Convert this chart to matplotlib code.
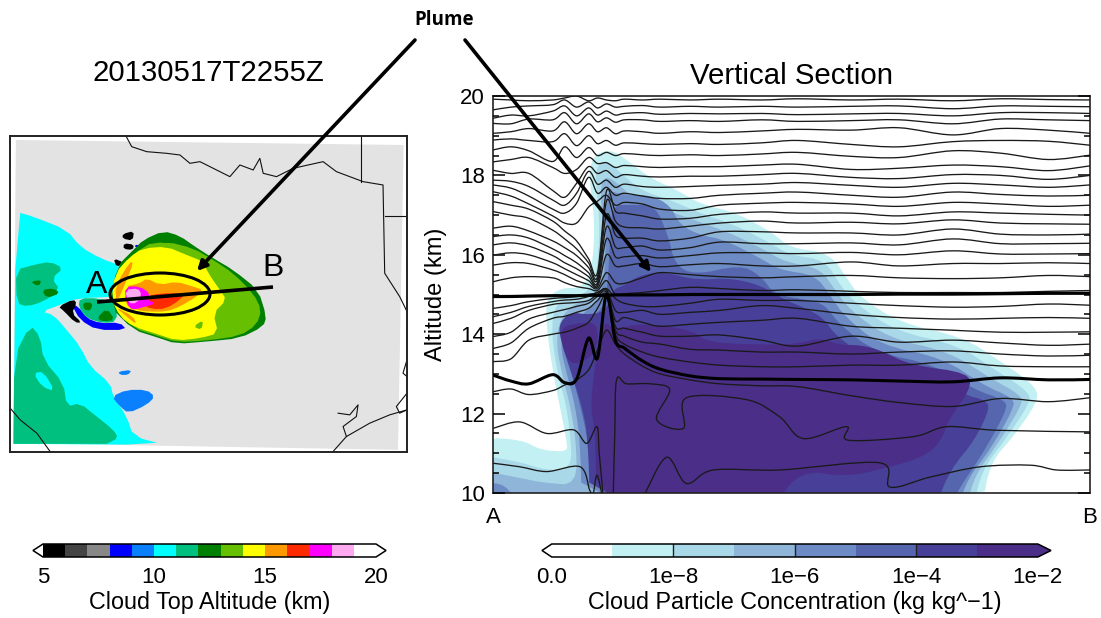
import numpy as np
import matplotlib
matplotlib.use("Agg")
import matplotlib.pyplot as plt
from matplotlib.colors import ListedColormap, BoundaryNorm
from matplotlib.cm import ScalarMappable
from matplotlib.patches import Polygon, Ellipse, PathPatch
from matplotlib.path import Path

plt.rcParams['font.family'] = ['Liberation Sans', 'DejaVu Sans']

W, H = 1101, 618

# ---------- titles / labels
map_title = "20130517T2255Z"
sec_title = "Vertical Section"
plume_label = "Plume"
top_label = "Cloud Top Altitude (km)"
conc_label = "Cloud Particle Concentration (kg kg^\u22121)"

# ---------- colour bars
top_levels = list(range(5, 21))
top_colors = ['#000000', '#444444', '#888888', '#0000ff', '#0a80ff', '#00ffff', '#00c080', '#008000',
              '#66bf00', '#ffff00', '#ff9900', '#ff2a00', '#ff00ff', '#ffaaf0', '#ffffff']
top_ticks = [5, 10, 15, 20]
conc_positions = list(range(0, 9))
conc_colors = ['#ffffff', '#c2f0f3', '#a9d9e8', '#8fb5d8', '#6d8bc4', '#5566ae', '#483f98', '#4a2e88']
conc_ticks = [0, 2, 4, 6, 8]
conc_ticklabels = ['0.0', '1e\u22128', '1e\u22126', '1e\u22124', '1e\u22122']

# ---------- section: isentropes, x = % of distance A-B, altitude in km
sec_x = [0, 3, 6, 10, 12, 14, 16, 17.5, 19, 20.5, 22, 25, 28, 33, 38, 45, 51, 60, 68, 77, 85, 93, 100]
upper_lines = [
 [19.92,19.90,19.88,19.90,19.95,20.00,19.88,19.95,19.90,19.88,19.92,19.90,19.92,19.90,19.92,19.90,19.93,19.90,19.92,19.88,19.93,19.91,19.90],
 [19.65,19.72,19.75,19.78,19.90,19.72,19.85,19.70,19.80,19.72,19.74,19.76,19.72,19.74,19.72,19.74,19.72,19.74,19.75,19.68,19.75,19.74,19.73],
 [19.44,19.52,19.50,19.62,19.75,19.50,19.70,19.52,19.62,19.52,19.56,19.58,19.54,19.56,19.55,19.56,19.53,19.55,19.56,19.50,19.58,19.58,19.56],
 [19.31,19.30,19.42,19.40,19.58,19.30,19.55,19.35,19.45,19.34,19.40,19.40,19.36,19.38,19.36,19.40,19.36,19.38,19.40,19.30,19.42,19.40,19.38],
 [19.06,19.10,19.18,19.12,19.35,19.05,19.30,19.10,19.20,19.05,19.12,19.10,19.06,19.10,19.08,19.12,19.16,19.14,19.20,19.02,19.18,19.14,19.06],
 [18.89,18.92,18.88,18.85,19.05,18.75,19.00,18.80,18.88,18.76,18.82,18.80,18.78,18.80,18.78,18.82,18.88,18.78,18.72,18.85,18.88,18.86,18.76],
 [18.64,18.72,18.62,18.35,18.72,18.45,18.70,18.50,18.58,18.50,18.55,18.52,18.50,18.52,18.50,18.54,18.58,18.48,18.45,18.62,18.56,18.40,18.51],
 [18.34,18.40,18.45,18.20,18.05,18.15,18.45,18.30,18.32,18.20,18.25,18.22,18.20,18.22,18.22,18.26,18.28,18.15,18.18,18.26,18.22,18.12,18.24],
 [18.13,18.05,18.05,17.62,17.45,17.80,18.22,18.05,18.12,17.95,18.02,17.98,17.96,17.98,17.98,18.02,18.05,17.95,17.92,18.02,18.00,17.90,18.00],
 [17.88,17.85,17.72,17.38,17.25,17.55,18.10,17.78,17.88,17.70,17.78,17.72,17.70,17.72,17.75,17.78,17.82,17.75,17.70,17.80,17.76,17.70,17.76],
 [17.76,17.68,17.48,17.15,17.05,17.30,17.95,17.55,17.70,17.50,17.55,17.48,17.42,17.42,17.50,17.55,17.58,17.50,17.45,17.58,17.52,17.48,17.50],
 [17.59,17.48,17.28,16.98,16.80,16.80,17.20,17.35,17.50,17.25,17.32,17.28,17.15,17.12,17.25,17.30,17.32,17.28,17.22,17.32,17.28,17.22,17.25],
 [17.34,17.25,17.15,16.85,16.60,16.35,15.90,15.55,17.60,17.10,17.05,16.98,16.90,16.92,17.02,17.08,17.05,17.05,16.98,17.08,17.05,17.02,17.00],
 [17.09,17.00,16.92,16.62,16.40,16.15,15.80,15.45,17.35,16.85,16.70,16.68,16.65,16.72,16.80,16.85,16.80,16.82,16.78,16.88,16.80,16.78,16.77],
 [16.67,16.72,16.60,16.35,16.18,15.98,15.68,15.38,17.00,16.50,16.42,16.42,16.35,16.42,16.58,16.58,16.55,16.55,16.50,16.65,16.52,16.50,16.52],
 [16.46,16.50,16.42,16.15,15.98,15.80,15.55,15.30,16.70,16.20,16.18,16.22,16.12,16.18,16.32,16.28,16.28,16.30,16.25,16.40,16.28,16.28,16.29],
 [16.25,16.30,16.22,15.98,15.80,15.65,15.45,15.25,16.40,15.95,15.95,15.98,15.92,15.98,16.05,16.05,16.03,16.06,16.00,16.10,16.02,16.02,16.03],
 [15.99,16.05,16.00,15.80,15.65,15.50,15.35,15.20,16.00,15.72,15.72,15.78,15.70,15.75,15.78,15.72,15.72,15.82,15.72,15.78,15.78,15.80,15.78],
 [15.74,15.80,15.78,15.62,15.50,15.35,15.25,15.15,15.55,15.30,15.28,15.42,15.55,15.50,15.45,15.42,15.45,15.48,15.42,15.40,15.42,15.48,15.45],
 [15.32,15.42,15.45,15.42,15.30,15.20,15.15,15.10,15.35,15.00,15.02,15.05,15.10,15.18,15.15,15.10,15.12,15.08,15.05,15.05,15.05,15.08,15.10],
]
lower_lines = [
 [14.65,14.72,14.82,14.90,14.92,14.95,15.00,15.05,15.15,14.90,14.78,14.70,14.70,14.78,14.88,14.85,14.85,14.78,14.72,14.68,14.70,14.76,14.73],
 [14.44,14.55,14.70,14.82,14.86,14.88,14.95,15.05,15.12,14.60,14.55,14.60,14.50,14.55,14.60,14.72,14.65,14.50,14.42,14.38,14.40,14.42,14.40],
 [14.27,14.40,14.60,14.75,14.78,14.80,14.85,15.00,15.10,14.35,14.42,14.30,14.20,14.25,14.30,14.35,14.40,14.20,14.15,14.10,14.05,14.05,14.06],
 [13.94,14.05,14.38,14.55,14.62,14.70,14.78,14.95,15.05,14.20,14.15,14.05,13.95,13.95,13.98,13.85,13.70,13.95,13.80,13.85,13.78,13.72,13.75],
 [13.64,13.78,14.15,14.40,14.45,14.55,14.65,14.85,15.00,14.10,13.95,13.80,13.75,13.62,13.60,13.55,13.55,13.50,13.55,13.58,13.50,13.45,13.47],
 [13.31,13.38,13.85,14.00,14.05,14.15,14.30,14.65,14.95,14.00,13.75,13.55,13.42,13.30,13.22,13.18,13.18,13.22,13.22,13.30,13.20,13.18,13.18],
 [12.55,12.62,12.48,12.58,12.72,12.85,13.10,13.60,14.10,13.75,13.50,13.20,13.00,12.85,12.75,12.70,12.68,12.45,12.28,12.18,12.38,12.30,12.40],
]
thick_flat = [14.95,14.95,14.96,14.97,14.97,14.97,14.98,14.98,14.98,14.99,14.99,14.99,14.99,15.00,15.00,15.00,15.00,15.00,15.01,15.01,15.02,15.03,15.03]
thick_low = [12.97,12.82,12.75,12.98,12.78,12.87,13.90,13.40,15.00,13.85,13.65,13.33,13.12,12.95,12.88,12.87,12.86,12.85,12.82,12.80,12.90,12.85,12.86]
deep_a_x = [0.05,4.5,9,13.5,15.7,17.4,17.8,18.4]
deep_a_y = [11.63,11.79,11.50,11.59,11.25,11.67,11.00,10.00]
deep_b_x = [20.15,20.4,20.7,22.4,26.3,29.6,27.4,31.9,32.4,42.5,48,52,59.2,59.5,70.4,76,84.4,100]
deep_b_y = [10.00,11.50,12.85,12.75,12.75,12.60,11.85,11.63,12.40,12.35,11.92,11.37,11.67,11.33,11.42,11.67,11.58,11.54]
deep_c_x = [0,4.5,9,14.6,16.2,16.8,17.4,18.2]
deep_c_y = [10.75,10.66,10.54,10.66,10.07,10.00,10.45,10.00]
deep_d_x = [25.5,29.1,32.4,36.9,48,64.8,66.5,73.2,81.6,90,94.4,100]
deep_d_y = [10.00,10.90,10.24,10.58,10.58,10.76,10.15,10.40,10.66,10.70,10.58,10.58]

# ---------- section: concentration regions as (column, row)
conc_1 = [(493,493),(493,437),(523,440),(540,450),(567,452),(567,443),(560,407),(555,383),(548,340),(545,300),(560,288),(582,288),(592,270),(595,225),(590,185),(590,165),(597,153),(612,150),(627,160),(650,178),(677,190),(700,204),(737,213),(773,233),(790,248),(830,253),(848,280),(860,297),(900,323),(963,337),(1003,363),(1037,387),(1037,403),(1013,437),(990,463),(982,493)]
conc_2 = [(493,493),(493,455),(520,462),(545,470),(572,470),(570,430),(565,400),(559,380),(552,340),(553,310),(565,297),(585,295),(597,275),(600,225),(596,185),(596,168),(605,160),(620,172),(640,190),(670,200),(700,213),(735,225),(770,243),(790,255),(825,260),(840,285),(855,303),(895,331),(958,345),(997,371),(1029,392),(1030,403),(1005,440),(982,470),(973,493)]
conc_3 = [(493,493),(493,470),(520,478),(545,483),(577,485),(576,440),(570,405),(563,378),(556,345),(560,318),(575,303),(592,300),(600,280),(603,225),(600,190),(605,175),(620,185),(640,205),(660,208),(700,222),(730,233),(765,250),(785,262),(820,268),(835,290),(850,310),(888,338),(950,352),(990,378),(1021,395),(1022,405),(997,445),(975,475),(966,493)]
conc_4 = [(582,493),(580,440),(575,405),(567,375),(560,345),(566,328),(585,312),(600,300),(605,270),(606,225),(605,190),(625,195),(650,195),(670,205),(680,225),(700,235),(725,240),(760,258),(780,270),(815,275),(830,295),(845,317),(880,345),(943,358),(983,385),(1013,398),(1014,408),(990,450),(968,478),(958,493)]
conc_4b = [(493,493),(493,484),(505,483),(520,493)]
conc_5 = [(592,493),(588,440),(580,405),(572,375),(564,345),(572,330),(590,320),(605,305),(608,280),(610,240),(612,205),(633,205),(655,205),(668,235),(675,265),(695,275),(740,265),(760,275),(775,295),(810,300),(825,305),(840,325),(875,352),(935,365),(975,390),(1005,400),(1007,410),(982,455),(958,490),(950,493)]
conc_6 = [(590,493),(588,440),(583,410),(572,375),(562,345),(558,325),(570,312),(590,315),(607,310),(612,290),(625,285),(640,275),(665,272),(695,280),(730,278),(760,285),(785,300),(810,310),(825,320),(835,335),(870,360),(925,372),(965,395),(985,400),(990,408),(975,440),(950,470),(935,493)]
conc_7 = [(597,493),(595,430),(590,405),(598,345),(605,320),(613,330),(640,323),(693,330),(707,343),(780,345),(800,343),(820,338),(840,345),(860,345),(880,350),(910,365),(970,373),(970,390),(950,417),(940,443),(923,457),(890,467),(847,477),(800,470),(773,493)]
conc_7b = [(560,327),(580,323),(598,323),(597,353),(573,367),(563,350)]

# ---------- map regions, on the map's own grid
map_land = [(47,30),(1212,45),(1195,960),(40,940)]
map_cyan = [(47,245),(100,260),(200,300),(240,350),(300,385),(370,410),(360,500),(230,505),(180,525),(125,545),(160,555),(200,600),(240,650),(270,710),(330,760),(340,800),(380,860),(400,920),(495,945),(40,942),(40,942)]
map_teal_low = [(40,942),(40,942),(42,680),(90,585),(120,620),(130,690),(190,760),(200,830),(240,820),(290,860),(340,900),(355,925),(320,942),(320,942)]
map_cyan_hole = [(100,730),(130,725),(165,785),(125,770)]
map_teal_high = [(47,420),(100,405),(150,395),(190,415),(155,445),(180,480),(130,515),(80,530),(50,520)]
map_green_1 = [(90,455),(125,450),(115,470)]
map_green_2 = [(125,480),(160,475),(180,490),(140,505)]
map_lake = [(335,800),(380,780),(440,780),(465,800),(440,825),(385,850),(360,830)]
map_pond = [(355,725),(395,720),(385,735),(360,735)]
map_crescent = [(215,525),(240,570),(290,600),(380,600),(360,578),(300,580),(260,565),(235,530)]
map_teal_a = [(240,505),(295,505),(350,520),(350,575),(310,580),(260,565),(235,530)]
map_green_a = [(290,565),(320,535),(345,570),(310,575)]
map_green_b = [(248,518),(278,518),(272,542),(252,540)]
map_black_a = [(175,530),(220,508),(230,520),(215,550),(245,578),(225,578),(190,542)]
map_black_b = [(368,312),(402,303),(398,332),(368,326)]
map_black_c = [(372,340),(402,344),(398,360),(370,357)]
map_black_d = [(340,385),(372,398),(350,412)]
map_blue_a = [(400,345),(428,345),(420,362)]
plume_dark = [(430,330),(490,303),(540,318),(585,350),(640,385),(700,420),(775,480),(800,560),(790,590),(720,625),(620,635),(530,642),(470,622),(400,600),(330,530),(350,410),(400,360)]
plume_light = [(430,345),(500,335),(580,355),(640,390),(700,430),(760,490),(785,540),(770,585),(720,618),(620,632),(530,637),(470,617),(400,595),(340,530),(360,420)]
plume_top = [(460,320),(500,312),(540,335),(500,340),(470,335)]
plume_yellow = [(345,430),(390,380),(430,355),(500,350),(560,375),(610,395),(625,430),(660,480),(680,510),(640,550),(655,610),(600,625),(530,632),(470,612),(400,590),(360,560),(335,510)]
plume_patch = [(580,590),(610,570),(605,600)]
plume_or_1 = [(375,470),(420,460),(440,445),(480,465),(530,455),(580,470),(610,480),(590,500),(540,530),(500,545),(440,545),(410,540),(375,525)]
plume_or_2 = [(345,470),(390,395),(400,400),(380,450),(350,520)]
plume_or_3 = [(345,530),(380,560),(410,585),(400,560)]
plume_red = [(440,500),(480,490),(560,490),(520,525),(480,540),(430,530)]
plume_mag = [(375,470),(420,470),(450,490),(440,510),(470,520),(420,535),(395,540),(380,520)]
plume_pink = [(375,480),(415,475),(425,495),(410,520),(385,520)]
border_north = [(380,22),(395,50),(440,65),(500,70),(540,75),(570,100),(600,95),(620,105),(650,120),(690,140),(720,105),(760,120),(780,85),(790,130),(830,140),(880,115),(970,95),(1010,125),(1090,155),(1150,165),(1155,430),(1200,500),(1222,545)]
border_ok = [(1085,22),(1085,155)]
border_ar = [(1155,257),(1222,257)]
border_mex = [(30,835),(60,870),(110,910),(150,965)]
border_coast = [(1000,965),(1040,920),(1110,880),(1170,855),(1222,840)]
border_bay = [(1015,850),(1050,855),(1075,825),(1070,860),(1030,890),(1040,920)]
border_bay_2 = [(1222,790),(1190,830),(1200,850),(1222,840)]
border_bay_3 = [(1222,690),(1210,730),(1222,740)]

# ---------- annotations on the page
arrow_left = [(415,40),(197,271)]
arrow_right = [(465,40),(651,272)]
section_line = [(97,302),(273,287)]


def fig_axes(x0, y0, x1, y1, **kw):
    return fig.add_axes([x0/W, 1-y1/H, (x1-x0)/W, (y1-y0)/H], **kw)


def rounded(pts, passes=2):
    """Round a closed outline by cutting its corners."""
    a = np.asarray(pts, dtype=float)
    for _ in range(passes):
        b = np.roll(a, -1, axis=0)
        a = np.column_stack([0.75*a+0.25*b, 0.25*a+0.75*b]).reshape(-1, 2)
    return a


def curve_path(xs, ys):
    """Smooth Bezier path running through the given points."""
    p = np.column_stack([xs, ys]).astype(float)
    verts = [p[0]]
    codes = [Path.MOVETO]
    n = len(p)
    for i in range(n-1):
        before = p[max(i-1, 0)]
        after = p[min(i+2, n-1)]
        verts += [p[i]+(p[i+1]-before)/6, p[i+1]-(after-p[i])/6, p[i+1]]
        codes += [Path.CURVE4]*3
    return Path(verts, codes)


fig = plt.figure(figsize=(W/100, H/100), dpi=100, facecolor='white')

# ---------- map
mp = fig_axes(9.5, 136, 407, 451.5)
mp.set_xlim(28, 1222)
mp.set_ylim(965, 18)
mp.set_xticks([]); mp.set_yticks([])
for s in mp.spines.values():
    s.set_linewidth(1.4); s.set_color('#222222')
mp.add_patch(Polygon(map_land, closed=True, fc='#e3e3e3', ec='none'))
fills = [(map_cyan, '#00ffff'), (map_teal_low, '#00c080'), (map_cyan_hole, '#00ffff'),
         (map_teal_high, '#00c080'), (map_green_1, '#008000'), (map_green_2, '#008000'), (map_lake, '#0a80ff'),
         (map_pond, '#0a80ff'), (map_crescent, '#0000ff'), (map_teal_a, '#00c080'), (map_green_a, '#008000'),
         (map_green_b, '#008000'), (map_black_a, '#000000'), (map_black_b, '#000000'), (map_black_c, '#000000'),
         (map_black_d, '#000000'), (map_blue_a, '#0000ff'), (plume_dark, '#008000'), (plume_light, '#66bf00'),
         (plume_top, '#008000'), (plume_yellow, '#ffff00'), (plume_patch, '#66bf00'), (plume_or_1, '#ff9900'),
         (plume_or_2, '#ff9900'), (plume_or_3, '#ff9900'), (plume_red, '#ff2a00'), (plume_mag, '#ff00ff'),
         (plume_pink, '#ffaaf0')]
for pts, col in fills:
    mp.add_patch(Polygon(rounded(pts, 1), closed=True, fc=col, ec='none'))
for pts in [border_north, border_ok, border_ar, border_mex, border_coast, border_bay, border_bay_2, border_bay_3]:
    a = np.array(pts)
    mp.plot(a[:, 0], a[:, 1], color='#111111', lw=0.8)

# ---------- vertical section
sec = fig_axes(493, 96, 1090, 493)
sec.set_xlim(0, 100)
sec.set_ylim(10, 20)


def to_section(pts):
    a = np.array(pts, dtype=float)
    # outlines that touch the frame run on past it, so rounding leaves no gap
    a[:, 0] = np.where(a[:, 0] <= 493, 480, a[:, 0])
    a[:, 1] = np.where(a[:, 1] >= 493, 508, a[:, 1])
    a = rounded(a)
    return np.column_stack([(a[:, 0]-493)/5.97, 10+(493-a[:, 1])/39.7])


regions = [(conc_1, conc_colors[1]), (conc_2, conc_colors[2]), (conc_3, conc_colors[3]), (conc_4, conc_colors[4]),
           (conc_4b, conc_colors[4]), (conc_5, conc_colors[5]), (conc_6, conc_colors[6]), (conc_7, conc_colors[7]),
           (conc_7b, conc_colors[7])]
for pts, col in regions:
    sec.add_patch(Polygon(to_section(pts), closed=True, fc=col, ec='none'))


def draw_line(xs, ys, lw, color='#1a1a1a'):
    sec.add_patch(PathPatch(curve_path(xs, ys), fc='none', ec=color, lw=lw, joinstyle='round', zorder=3))


for row in upper_lines + lower_lines:
    draw_line(sec_x, row, 0.95)
for xs, ys in [(deep_a_x, deep_a_y), (deep_b_x, deep_b_y), (deep_c_x, deep_c_y), (deep_d_x, deep_d_y)]:
    draw_line(xs, ys, 0.95)
draw_line(sec_x, thick_low, 2.2, 'black')
draw_line(sec_x, thick_flat, 2.3, 'black')

sec.set_yticks([10, 12, 14, 16, 18, 20])
sec.set_yticks(np.arange(10, 20.1, 0.5), minor=True)
sec.tick_params(axis='y', which='major', direction='in', length=8.5, width=1.1, left=True, right=True, labelsize=16, pad=6)
sec.tick_params(axis='y', which='minor', direction='in', length=4.3, width=1.1, left=True, right=True)
sec.set_xticks([0, 100])
sec.set_xticklabels(['A', 'B'], fontsize=16)
sec.tick_params(axis='x', length=0, pad=10)
sec.set_ylabel('Altitude (km)', fontsize=17, labelpad=9)
sec.set_title(sec_title, fontsize=21.2, pad=9)
for s in sec.spines.values():
    s.set_linewidth(1.2); s.set_color('#222222')
sec.set_axisbelow(False)

# ---------- colour bars
cax1 = fig_axes(33, 544, 386, 557)
cmap1 = ListedColormap(top_colors).with_extremes(under='white', over='white')
norm1 = BoundaryNorm(top_levels, cmap1.N)
cb1 = fig.colorbar(ScalarMappable(norm=norm1, cmap=cmap1), cax=cax1, orientation='horizontal',
                   extend='both', extendfrac=0.03, spacing='uniform', ticks=top_ticks)
cb1.minorticks_off()
cb1.outline.set_linewidth(1.1)
cax1.tick_params(length=0, labelsize=16, pad=7)
cb1.set_label(top_label, fontsize=16.8, labelpad=2)

cax2 = fig_axes(542, 544, 1051, 557)
cmap2 = ListedColormap(conc_colors).with_extremes(under='white', over=conc_colors[-1])
norm2 = BoundaryNorm(conc_positions, cmap2.N)
cb2 = fig.colorbar(ScalarMappable(norm=norm2, cmap=cmap2), cax=cax2, orientation='horizontal',
                   extend='both', extendfrac=[0.02, 0.027], spacing='uniform', ticks=conc_ticks)
cb2.minorticks_off()
cb2.set_ticklabels(conc_ticklabels)
cb2.outline.set_linewidth(1.1)
cax2.tick_params(length=0, labelsize=16, pad=7)
for v in conc_ticks[1:-1]:
    cax2.axvline(v, color='#222222', lw=1.0)
cb2.set_label(conc_label, fontsize=16.8, labelpad=2)

# ---------- page overlay
ov = fig.add_axes([0, 0, 1, 1], facecolor='none', zorder=10)
ov.set_xlim(0, W); ov.set_ylim(H, 0); ov.axis('off')
ov.text(208, 73, map_title, fontsize=21.2, ha='center', va='center')
ov.text(444, 20, plume_label, fontsize=13.5, ha='center', va='center', fontweight='bold', family='Open Sans')
for (p0, p1) in [arrow_left, arrow_right]:
    ov.annotate('', xy=p1, xytext=p0, arrowprops=dict(arrowstyle='-|>', color='black', lw=2.6, mutation_scale=14,
                                                      shrinkA=0, shrinkB=0))
a = np.array(section_line)
ov.plot(a[:, 0], a[:, 1], color='black', lw=2.6, solid_capstyle='butt')
ov.add_patch(Ellipse((160, 294), 100, 42, angle=0, fc='none', ec='black', lw=2.2))
ov.text(97, 285, 'A', fontsize=23, ha='center', va='center')
ov.text(273, 268, 'B', fontsize=23, ha='center', va='center')

fig.savefig('out.png', dpi=100)
